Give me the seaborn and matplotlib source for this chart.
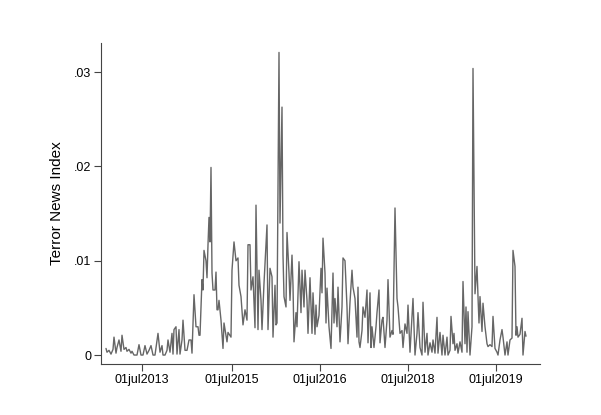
import numpy as np
import pandas as pd
import matplotlib
matplotlib.use("Agg")
import matplotlib.pyplot as plt
import seaborn as sns

# observation number (x variable) and Terror News Index (in units of 1e-4)
obs = [0, 1, 3, 5, 7, 8, 10, 11, 13, 15,
       16, 18, 20, 21, 23, 25, 26, 28, 31, 33,
       35, 37, 39, 41, 43, 45, 47, 49, 52, 54,
       56, 57, 59, 61, 62, 64, 66, 67, 68, 70,
       71, 73, 74, 76, 77, 79, 81, 83, 85, 86,
       88, 90, 92, 93, 94, 96, 97, 98, 100, 101,
       102, 103, 104, 105, 106, 107, 109, 110, 111, 112,
       113, 115, 117, 118, 121, 122, 125, 126, 128, 130,
       132, 133, 135, 137, 139, 141, 142, 144, 145, 147,
       149, 150, 152, 153, 155, 156, 158, 161, 162, 164,
       166, 167, 169, 170, 171, 173, 174, 176, 177, 178,
       180, 181, 183, 184, 186, 187, 188, 190, 191, 193,
       195, 196, 198, 199, 201, 202, 204, 206, 207, 209,
       210, 211, 213, 215, 216, 217, 219, 220, 221, 223,
       225, 227, 228, 229, 231, 232, 234, 236, 237, 239,
       241, 242, 244, 246, 247, 249, 251, 252, 253, 254,
       256, 257, 259, 261, 262, 264, 265, 266, 268, 270,
       271, 273, 274, 276, 277, 279, 281, 282, 284, 286,
       287, 289, 291, 292, 294, 296, 297, 299, 301, 302,
       304, 306, 307, 309, 311, 312, 314, 316, 317, 319,
       321, 322, 324, 326, 327, 329, 331, 332, 334, 336,
       337, 339, 341, 342, 344, 345, 347, 348, 349, 351,
       352, 354, 356, 357, 359, 360, 361, 362, 364, 366,
       367, 369, 371, 372, 373, 374, 376, 377, 379, 381,
       382, 384, 386, 387, 389, 391, 392, 394, 396, 397,
       399, 401, 402, 404, 406, 407, 409, 410, 411, 412,
       414, 416, 417, 419, 420]
tni_e4 = [7, 3, 5, 1, 6, 19, 2, 8, 16, 4,
          21, 6, 8, 4, 6, 2, 4, 0, 0, 11,
          0, 0, 10, 1, 5, 10, 0, 0, 23, 3,
          10, 0, 0, 5, 16, 3, 23, 1, 27, 30,
          1, 27, 1, 16, 37, 5, 5, 16, 16, 2,
          64, 30, 30, 21, 21, 80, 69, 111, 100, 82,
          117, 146, 120, 199, 87, 69, 69, 88, 48, 48,
          58, 37, 7, 34, 14, 24, 19, 90, 120, 100,
          103, 74, 62, 32, 48, 37, 117, 117, 69, 83,
          29, 159, 27, 90, 58, 27, 76, 138, 27, 92,
          83, 19, 74, 32, 34, 321, 140, 263, 106, 62,
          51, 130, 87, 58, 106, 74, 14, 45, 30, 99,
          45, 90, 51, 90, 58, 23, 82, 23, 66, 22,
          53, 30, 42, 92, 66, 124, 87, 34, 71, 30,
          7, 87, 34, 60, 30, 72, 14, 51, 103, 100,
          51, 12, 56, 90, 72, 60, 19, 72, 14, 8,
          26, 51, 40, 69, 13, 66, 8, 30, 8, 30,
          45, 69, 13, 37, 40, 8, 37, 80, 19, 26,
          22, 156, 60, 51, 23, 26, 8, 33, 23, 53,
          3, 40, 60, 0, 23, 45, 8, 0, 56, 3,
          23, 0, 13, 3, 16, 2, 40, 2, 24, 0,
          21, 0, 19, 0, 5, 41, 12, 23, 5, 12,
          2, 14, 3, 78, 12, 51, 3, 46, 0, 30,
          304, 65, 94, 62, 34, 62, 25, 55, 30, 12,
          9, 11, 9, 41, 7, 3, 0, 16, 27, 19,
          0, 14, 0, 16, 18, 111, 94, 21, 30, 19,
          22, 39, 0, 25, 20]

tick_obs = [36, 126, 214, 302, 390]
tick_labels = ["01jul2013", "01jul2015", "01jul2016", "01jul2018", "01jul2019"]
ytick_vals = [0, 0.01, 0.02, 0.03]
ytick_labels = ["0", ".01", ".02", ".03"]

df = pd.DataFrame({"obs": obs, "tni": np.array(tni_e4) / 1e4})

sns.set_theme(style="white")
plt.rcParams["font.family"] = ["Liberation Sans", "DejaVu Sans"]

fig = plt.figure(figsize=(6.01, 4.15), dpi=100)
ax = fig.add_axes([101 / 601, 1 - 364 / 415, (540 - 101) / 601, (364 - 43) / 415])
sns.lineplot(data=df, x="obs", y="tni", ax=ax, color="#666666", linewidth=1.0)

ax.set_xlim(-5, 434)
ax.set_ylim(-0.00095, 0.0331)
ax.set_xticks(tick_obs)
ax.set_xticklabels(tick_labels)
ax.set_yticks(ytick_vals)
ax.set_yticklabels(ytick_labels)
ax.set_xlabel("")
ax.set_ylabel("Terror News Index", fontsize=11, color="black", labelpad=7)
for s in ["top", "right"]:
    ax.spines[s].set_visible(False)
for s in ["left", "bottom"]:
    ax.spines[s].set_color("#444444")
    ax.spines[s].set_linewidth(0.8)
ax.tick_params(axis="both", which="major", length=5, width=0.8, color="#444444",
               labelsize=9, labelcolor="black", direction="out", left=True, bottom=True, pad=2)
ax.grid(False)

fig.savefig("out.png", dpi=100, facecolor="white")
